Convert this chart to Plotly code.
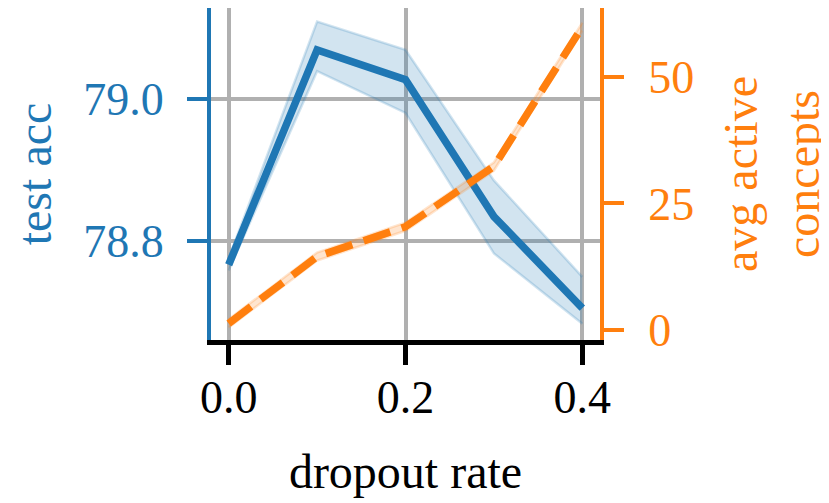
import plotly.graph_objects as go

dropout = [0.0, 0.1, 0.2, 0.3, 0.4]
acc_mean = [78.766, 79.069, 79.027, 78.834, 78.705]
acc_low = [78.758, 79.039, 78.980, 78.782, 78.683]
acc_high = [78.775, 79.109, 79.069, 78.885, 78.749]
concepts_mean = [1.3, 14.5, 20.4, 32.3, 59.9]
concepts_low = [0.5, 13.7, 19.6, 31.5, 59.1]
concepts_high = [2.1, 15.3, 21.2, 33.1, 60.7]

BLUE = "#1f77b4"
ORANGE = "#ff7f0e"
FONT = "Liberation Serif"

fig = go.Figure()
fig.add_trace(go.Scatter(x=dropout, y=acc_low, mode="lines",
                         line=dict(color="rgba(31,119,180,0.2)", width=2.5),
                         showlegend=False, hoverinfo="skip"))
fig.add_trace(go.Scatter(x=dropout, y=acc_high, mode="lines", fill="tonexty",
                         fillcolor="rgba(31,119,180,0.2)",
                         line=dict(color="rgba(31,119,180,0.2)", width=2.5),
                         showlegend=False, hoverinfo="skip"))
fig.add_trace(go.Scatter(x=dropout, y=acc_mean, mode="lines",
                         line=dict(color=BLUE, width=7.5), showlegend=False))
fig.add_trace(go.Scatter(x=dropout, y=concepts_low, mode="lines", yaxis="y2",
                         line=dict(color="rgba(255,127,14,0.2)", width=2.5),
                         showlegend=False, hoverinfo="skip"))
fig.add_trace(go.Scatter(x=dropout, y=concepts_high, mode="lines", yaxis="y2",
                         fill="tonexty", fillcolor="rgba(255,127,14,0.2)",
                         line=dict(color="rgba(255,127,14,0.2)", width=2.5),
                         showlegend=False, hoverinfo="skip"))
fig.add_trace(go.Scatter(x=dropout, y=concepts_mean, mode="lines", yaxis="y2",
                         line=dict(color=ORANGE, width=7.5, dash="28px,12px"),
                         showlegend=False))

fig.update_layout(
    width=821, height=495,
    margin=dict(l=203, r=229, t=0, b=163, autoexpand=False),
    paper_bgcolor="white", plot_bgcolor="white",
    font=dict(family=FONT, size=46, color="black"),
    xaxis=dict(
        range=[-0.02, 0.42], tickvals=[0.0, 0.2, 0.4], ticktext=["0.0", "0.2", "0.4"],
        showgrid=True, gridcolor="#b0b0b0", gridwidth=3.5,
        showline=True, linecolor="black", linewidth=4.5,
        ticks="outside", ticklen=20, tickwidth=4.5, tickcolor="black",
        ticklabelstandoff=-7, zeroline=False, automargin=False,
        title=dict(text="dropout rate", font=dict(size=48), standoff=34),
    ),
    yaxis=dict(
        range=[78.66, 79.128], tickvals=[78.8, 79.0], ticktext=["78.8", "79.0"],
        showgrid=True, gridcolor="#b0b0b0", gridwidth=3.5,
        showline=True, linecolor=BLUE, linewidth=4,
        ticks="outside", ticklen=20, tickwidth=4, tickcolor=BLUE,
        tickfont=dict(color=BLUE), ticklabelstandoff=14, zeroline=False, automargin=False,
        title=dict(text="test acc", font=dict(color=BLUE, size=48), standoff=27),
    ),
    yaxis2=dict(
        overlaying="y", side="right",
        range=[-1.98, 63.6], tickvals=[0, 25, 50], ticktext=["0", "25", "50"],
        showgrid=False,
        showline=True, linecolor=ORANGE, linewidth=4,
        ticks="outside", ticklen=20, tickwidth=4, tickcolor=ORANGE,
        tickfont=dict(color=ORANGE), ticklabelstandoff=15, zeroline=False, automargin=False,
        title=dict(text="avg active<br>concepts", font=dict(color=ORANGE, size=48), standoff=32),
    ),
)

fig.write_html("out.html")
